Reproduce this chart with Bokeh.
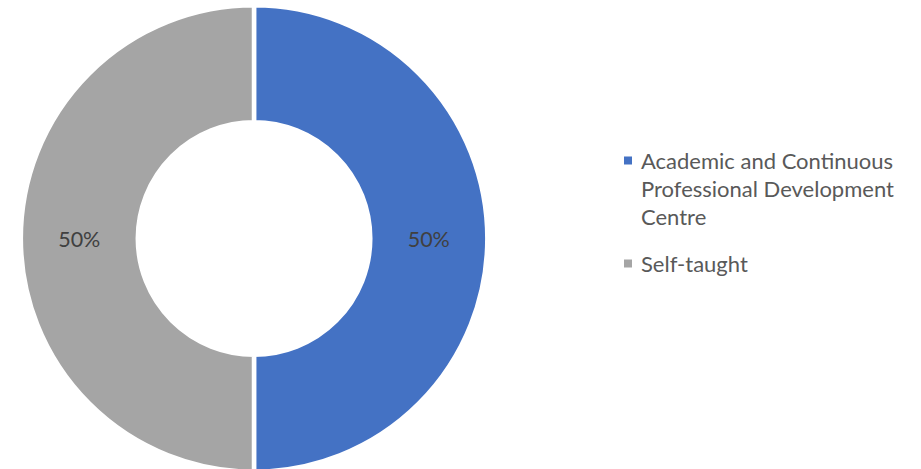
import math
from bokeh.plotting import figure
from bokeh.models import Range1d, ColumnDataSource
from bokeh.core.properties import value
from bokeh.embed import file_html
from bokeh.resources import INLINE

# ---- data ----
categories = ["Academic and Continuous Professional Development Centre", "Self-taught"]
legend_lines = [["Academic and Continuous", "Professional Development", "Centre"], ["Self-taught"]]
values = [50, 50]
colors = ["#4472C4", "#A5A5A5"]

# ---- layout constants (pixels) ----
W, H = 921, 469
CX, CY = 253.5, 231.0
R_OUT, R_IN = 231.0, 118.5
GAP = 4.5
FONT = "Lato"
LABEL_COLOR = "#404040"
TEXT_COLOR = "#595959"

p = figure(width=W, height=H, output_backend="svg", toolbar_location=None,
           x_range=Range1d(0, W), y_range=Range1d(0, H), min_border=0)
p.axis.visible = False
p.grid.visible = False
p.outline_line_color = None
p.background_fill_color = "white"
p.border_fill_color = "white"

total = sum(values)
starts, ends, lx, ly, labels = [], [], [], [], []
cum = 0.0
for v in values:
    a_end = math.pi / 2 - 2 * math.pi * cum / total
    a_start = math.pi / 2 - 2 * math.pi * (cum + v) / total
    starts.append(a_start)
    ends.append(a_end)
    mid = (a_start + a_end) / 2
    rm = (R_OUT + R_IN) / 2
    lx.append(CX + rm * math.cos(mid))
    ly.append(CY + rm * math.sin(mid))
    labels.append(f"{round(100 * v / total)}%")
    cum += v

src = ColumnDataSource(dict(start=starts, end=ends, color=colors))
p.annular_wedge(x=CX, y=CY, inner_radius=R_IN - GAP / 2, outer_radius=R_OUT + GAP / 2,
                start_angle="start", end_angle="end", fill_color="color",
                line_color="white", line_width=GAP, source=src)

p.text(x=lx, y=ly, text=labels, text_align="center", text_baseline="middle",
       text_font=value(FONT), text_font_size="21.5px", text_color=LABEL_COLOR)

# legend
LEG_X = 627.5
LEG_Y0 = 309
LINE_H = 28
ITEM_GAP = 19
y = LEG_Y0
for i, lines in enumerate(legend_lines):
    p.rect(x=[LEG_X], y=[y], width=8, height=8, fill_color=colors[i], line_color=None)
    for j, t in enumerate(lines):
        p.text(x=[LEG_X + 13], y=[y - j * LINE_H], text=[t], text_align="left",
               text_baseline="middle", text_font=value(FONT), text_font_size="22px",
               text_color=TEXT_COLOR)
    y -= len(lines) * LINE_H + ITEM_GAP

open("out.html", "w").write(file_html(p, INLINE))
